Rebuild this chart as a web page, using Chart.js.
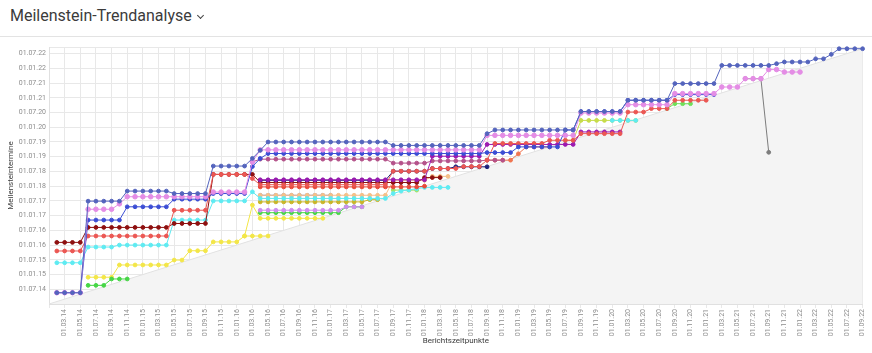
<!DOCTYPE html>
<html>
<head>
<meta charset="utf-8">
<script src="https://cdn.jsdelivr.net/npm/chart.js@4"></script>
<style>
  html, body { margin: 0; padding: 0; background: #fff; }
  body { width: 872px; height: 353px; overflow: hidden; position: relative; font-family: Roboto, sans-serif; }
  .header { position: absolute; left: 10px; top: 6px; font-size: 16px; line-height: 20px; color: #3b3b3b; white-space: nowrap; }
  .chev { display: inline-block; width: 4px; height: 4px; border-right: 1.3px solid #444; border-bottom: 1.3px solid #444; transform: rotate(45deg); margin-left: 6px; position: relative; top: -3px; }
  .rule { position: absolute; left: 0; top: 36px; width: 872px; height: 1px; background: #e3e3e3; }
  #wrap { position: absolute; left: 0; top: 38px; width: 872px; height: 315px; }
</style>
</head>
<body>
<div class="header">Meilenstein-Trendanalyse<span class="chev"></span></div>
<div class="rule"></div>
<div id="wrap"><canvas id="mta" width="872" height="315"></canvas></div>
<script>
// Berichtszeitpunkte (monthly report dates)
const xLabels = [
  '01.01.14','01.02.14','01.03.14','01.04.14','01.05.14','01.06.14','01.07.14','01.08.14','01.09.14','01.10.14','01.11.14','01.12.14',
  '01.01.15','01.02.15','01.03.15','01.04.15','01.05.15','01.06.15','01.07.15','01.08.15','01.09.15','01.10.15','01.11.15','01.12.15',
  '01.01.16','01.02.16','01.03.16','01.04.16','01.05.16','01.06.16','01.07.16','01.08.16','01.09.16','01.10.16','01.11.16','01.12.16',
  '01.01.17','01.02.17','01.03.17','01.04.17','01.05.17','01.06.17','01.07.17','01.08.17','01.09.17','01.10.17','01.11.17','01.12.17',
  '01.01.18','01.02.18','01.03.18','01.04.18','01.05.18','01.06.18','01.07.18','01.08.18','01.09.18','01.10.18','01.11.18','01.12.18',
  '01.01.19','01.02.19','01.03.19','01.04.19','01.05.19','01.06.19','01.07.19','01.08.19','01.09.19','01.10.19','01.11.19','01.12.19',
  '01.01.20','01.02.20','01.03.20','01.04.20','01.05.20','01.06.20','01.07.20','01.08.20','01.09.20','01.10.20','01.11.20','01.12.20',
  '01.01.21','01.02.21','01.03.21','01.04.21','01.05.21','01.06.21','01.07.21','01.08.21','01.09.21','01.10.21','01.11.21','01.12.21',
  '01.01.22','01.02.22','01.03.22','01.04.22','01.05.22','01.06.22','01.07.22','01.08.22','01.09.22'
];

// Meilensteintermine, in months after 01.01.14
const yTickValues = [6, 12, 18, 24, 30, 36, 42, 48, 54, 60, 66, 72, 78, 84, 90, 96, 102];
const yTickLabels = ['01.07.14','01.01.15','01.07.15','01.01.16','01.07.16','01.01.17','01.07.17','01.01.18','01.07.18',
  '01.01.19','01.07.19','01.01.20','01.07.20','01.01.21','01.07.21','01.01.22','01.07.22'];
const yTop = 104.7;

// each series: first report index + milestone values from there on
const slateStart = 1;
const slate = [4.6,4.6,4.6,4.6, 41.9,41.9,41.9,41.9,41.9, 46,46,46,46,46,46, 45,45,45,45,45,
  56.2,56.2,56.2,56.2,56.2, 59.3, 62.6,
  66,66,66,66,66,66,66,66,66,66,66,66,66,66,66,66,
  64.6,64.6,64.6,64.6,64.6,64.6,64.6,64.6,64.6,64.6,64.6,64.6, 69.4,
  70.9,70.9,70.9,70.9,70.9,70.9,70.9,70.9,70.9,70.9,70.9,
  78.4,78.4,78.4,78.4,78.4,78.4, 83,83,83,83,83,83, 89.8,89.8,89.8,89.8,89.8,89.8,
  97.2,97.2,97.2,97.2,97.2,97.2,97.2, 97.9, 98.6,98.6,98.6,98.6, 99.9,99.9, 101.7, 104,104,104,104];

const violetStart = 1;
const violet = [4.6,4.6,4.6,4.6, 38.6,38.6,38.6,38.6, 40.8, 43.7,43.7,43.7,43.7,43.7,43.7,43.7,43.7,43.7,43.7,43.7,
  45.6,45.6,45.6,45.6,45.6, 57.9,
  62.8,62.8,62.8,62.8,62.8,62.8,62.8,62.8,62.8,62.8,62.8,62.8,62.8,62.8,62.8,62.8,62.8,62.8,62.8,62.8,62.8,62.8,62.8,62.8,62.8,62.8,62.8,62.8,62.8,
  68.7,68.7,68.7,68.7,68.7,68.7,68.7,68.7,68.7,68.7,68.7,68.7,
  77.8,77.8,77.8,77.8,77.8,77.8, 81.2,81.2,81.2,81.2,81.2,81.2, 85.7,85.7,85.7,85.7,85.7,85.7,
  88.4,88.4,88.4, 91.8,91.8,91.8, 95.5,95.5, 94.5,94.5,94.5];

const blueStart = 1;
const blue = [4.6,4.6,4.6,4.6, 34.2,34.2,34.2,34.2,34.2, 39.6,39.6,39.6,39.6,39.6,39.6, 42.7,42.7,42.7,42.7,42.7,
  45,45,45,45,45, 56, 59.3,
  61.3,61.3,61.3,61.3,61.3,61.3,61.3,61.3,61.3,61.3,61.3,61.3,61.3,61.3,61.3,61.3,61.3,61.3,61.3,61.3,61.3,61.3,61.3,61.3,61.3,61.3,61.3,61.3,
  61.7,61.7,61.7,61.7, 64,64,64,64,64,64, 70.9,70.9,
  78.4,78.4,78.4,78.4,78.4,78.4, 83,83,83,83,83,83, 85.3,85.3,85.3,85.3,85.3,85.3];

const grayStart = 89;
const gray = [91.8,91.8,91.8, 61.8];

const redStart = 1;
const red = [21.6,21.6,21.6,21.6, 27.7,27.7,27.7,27.7,27.7,27.7,27.7,27.7,27.7,27.7,27.7, 38.2,38.2,38.2,38.2,38.2,
  52.8,52.8,52.8,52.8,52.8, 51.1,
  48.6,48.6,48.6,48.6,48.6,48.6,48.6,48.6,48.6,48.6,48.6,48.6,48.6,48.6,48.6,48.6,48.6,
  54.1,54.1,54.1,54.1,54.1, 55.2,55.2,55.2,55.2, 56,56,56, 58.6,
  65.4,65.4,65.4,65.4,65.4,65.4,65.4, 66.7,66.7,66.7,66.7, 69.4,69.4,69.4,69.4,69.4,69.4,
  78.2,78.2,78.2, 79.6,79.6,79.6, 83,83,83,83,83];

const purpleStart = 27;
const purple = [50.6,50.6,50.6,50.6,50.6,50.6,50.6,50.6,50.6,50.6,50.6,50.6,50.6,50.6,50.6,50.6,50.6,50.6,50.6,50.6,50.6,50.6,
  60.2,60.2,60.2,60.2,60.2,60.2,60.2, 65,65,65,65,65,65,65,65,65,65,65,65, 70.1,70.1,70.1,70.1,70.1,70.1];

const mauveStart = 26;
const mauve = [57.9, 59,59,59,59,59,59,59,59,59,59,59,59,59,59,59,59,59,
  57.4,57.4,57.4,57.4,57.4, 58.3,58.3,58.3,58.3,58.3,58.3,58.3, 58.6,58.6,58.6];

const navyStart = 27;
const navy = [50.4,50.4,50.4,50.4,50.4,50.4,50.4,50.4,50.4,50.4,50.4,50.4,50.4,50.4,50.4,50.4,50.4,
  54.1,54.1,54.1,54.1,54.1, 55.2,55.2,55.2, 55.9,55.9,55.9,55.9,55.9];

const darkRedStart = 1;
const darkRed = [25.1,25.1,25.1,25.1, 31.2,31.2,31.2,31.2,31.2,31.2,31.2,31.2,31.2,31.2,31.2, 32.8,32.8,32.8,32.8,32.8,
  52.8,52.8,52.8,52.8,52.8,52.8,
  49.5,49.5,49.5,49.5,49.5,49.5,49.5,49.5,49.5,49.5,49.5,49.5,49.5,49.5,49.5,49.5,49.5,49.5,49.5,49.5,49.5,
  51.5,51.5,51.5];

const tomatoStart = 56;
const tomato = [58.6,58.6,58.6,58.6, 61.2, 64,64,64,64];

const orangeRedStart = 27;
const orangeRed = [47.7,47.7,47.7,47.7,47.7,47.7,47.7,47.7,47.7,47.7,47.7,47.7,47.7,47.7,47.7,47.7,47.7,47.7,47.7,47.7,47.7, 48];

const cyanStart = 1;
const cyan = [16.8,16.8,16.8,16.8, 23.2,23.2,23.2,23.2, 24,24,24,24,24,24,24, 34.2,34.2,34.2,34.2,34.2,
  42,42,42,42,42, 45.7,
  43,43,43,43,43,43,43,43,43,43,43,43,43,43,43,43,43, 45,46,46.5,47, 47.5,47.5,47.5,47.5];
const cyanLateStart = 72;
const cyanLate = [74.8,74.8,74.8,74.8];

const peachStart = 27;
const peach = [44.3,44.3,44.3,44.3,44.3,44.3,44.3,44.3,44.3,44.3,44.3,44.3,44.3,44.3,44.3,44.3,44.3,
  50.4,50.4,50.4,50.4,50.4, 52,52,52];

const lightSlateStart = 27;
const lightSlate = [44.3,44.3,44.3,44.3,44.3,44.3,44.3,44.3,44.3,44.3];

const oliveStart = 27;
const olive = [41.6,41.6,41.6,41.6,41.6,41.6,41.6,41.6,41.6,41.6,41.6,41.6,41.6,41.6, 42.5,42.5];

const yellowGreenStart = 66;
const yellowGreen = [66.7,66.7, 74.8,74.8,74.8,74.8,74.8,74.8,74.8,74.8];

const lilacStart = 27;
const lilac = [38.2,38.2,38.2,38.2,38.2,38.2,38.2,38.2,38.2,38.2,38.2, 39.6,39.6,39.6];

const greenStart = 5;
const green = [7.6,7.6,7.6, 10.2,10.2,10.2];

const green2Start = 27;
const green2 = [37.2,37.2,37.2,37.2,37.2,37.2,37.2,37.2,37.2,37.2,37.2, 39.6,39.6,39.6];

const limeStart = 44;
const lime = [46.4,46.4,46.4,46.4];

const greenLateStart = 79;
const greenLate = [79.6, 81.6,81.6,81.6];

const yellowStart = 5;
const yellow = [10.9,10.9,10.9,10.9, 15.9,15.9,15.9,15.9,15.9,15.9,15.9, 17.9,17.9, 21.7,21.7,21.7,
  25.3,25.3,25.3,25.3, 27.7,27.7,27.7,27.7];

const yellow2Start = 25;
const yellow2 = [27.7, 40.3, 34.9,34.9,34.9,34.9,34.9,34.9,34.9,34.9,34.9];

// reference line: milestone date = report date
const diagonalEnds = [0, 104];

function place(start, values) {
  const out = new Array(xLabels.length).fill(null);
  values.forEach((v, k) => { out[start + k] = v; });
  return out;
}

function monthLabel(value) {
  const i = yTickValues.indexOf(value);
  return i >= 0 ? yTickLabels[i] : '';
}

// first entry is drawn on top
const rows = [
  ['slate', '#5464bd', slateStart, slate],
  ['violet', '#e48de5', violetStart, violet],
  ['blue', '#3b4dd4', blueStart, blue],
  ['gray', '#7d7d7d', grayStart, gray],
  ['red', '#eb5753', redStart, red],
  ['purple', '#9c1ab0', purpleStart, purple],
  ['mauve', '#b4528a', mauveStart, mauve],
  ['navy', '#1c1f7a', navyStart, navy],
  ['darkRed', '#8e1010', darkRedStart, darkRed],
  ['tomato', '#f0744f', tomatoStart, tomato],
  ['orangeRed', '#e94a3a', orangeRedStart, orangeRed],
  ['cyan', '#5eebf2', cyanStart, cyan],
  ['cyanLate', '#5eebf2', cyanLateStart, cyanLate],
  ['peach', '#f5c08a', peachStart, peach],
  ['lightSlate', '#7d93dc', lightSlateStart, lightSlate],
  ['olive', '#c9b52a', oliveStart, olive],
  ['yellowGreen', '#c7dc4a', yellowGreenStart, yellowGreen],
  ['lilac', '#cf8cf0', lilacStart, lilac],
  ['green', '#46d646', greenStart, green],
  ['green2', '#46d646', green2Start, green2],
  ['lime', '#9ee36a', limeStart, lime],
  ['greenLate', '#6fe05a', greenLateStart, greenLate],
  ['yellow', '#f3e648', yellowStart, yellow],
  ['yellow2', '#f3e648', yellow2Start, yellow2]
];

const datasets = rows.map(([label, color, start, values]) => ({
  label,
  data: place(start, values),
  borderColor: color,
  backgroundColor: color,
  borderWidth: 1,
  pointRadius: label === 'violet' ? 2.3 : 1.9,
  pointBorderWidth: 1,
  pointHoverRadius: 1.9,
  tension: 0,
  clip: false
}));

datasets.push({
  label: 'Ist',
  data: [
    { x: xLabels[0], y: diagonalEnds[0] },
    { x: xLabels[xLabels.length - 1], y: diagonalEnds[1] }
  ],
  borderColor: '#e2e2e2',
  backgroundColor: '#f4f4f4',
  borderWidth: 1,
  pointRadius: 0,
  fill: 'start'
});

new Chart(document.getElementById('mta'), {
  type: 'line',
  data: { labels: xLabels, datasets },
  options: {
    responsive: false,
    animation: false,
    devicePixelRatio: 1,
    layout: { padding: { top: 9, right: 7, bottom: 0, left: 0 } },
    plugins: {
      legend: { display: false },
      tooltip: { enabled: false }
    },
    scales: {
      x: {
        afterFit: (scale) => { scale.height = 49; },
        grid: {
          color: (ctx) => (ctx.index % 2 === 0 ? '#e8e8e8' : 'rgba(0,0,0,0)'),
          tickLength: 4
        },
        border: { color: '#e0e0e0' },
        ticks: {
          autoSkip: false,
          minRotation: 90,
          maxRotation: 90,
          padding: 1,
          color: '#8c8c8c',
          font: { family: 'Roboto', size: 7 },
          callback: (value, index) => (index > 0 && index % 2 === 0 ? xLabels[index] : '')
        },
        title: {
          display: true,
          text: 'Berichtszeitpunkte',
          color: '#3a3a3a',
          font: { family: 'Roboto', size: 8 },
          padding: { top: 2, bottom: 7 }
        }
      },
      y: {
        min: 0,
        max: yTop,
        afterFit: (scale) => { scale.width = 49; },
        afterBuildTicks: (scale) => { scale.ticks = yTickValues.concat([yTop]).map((v) => ({ value: v })); },
        grid: { color: '#e8e8e8', drawTicks: false },
        border: { color: '#e0e0e0' },
        ticks: {
          padding: 3,
          color: '#8c8c8c',
          font: { family: 'Roboto', size: 7 },
          callback: (value) => monthLabel(value)
        },
        title: {
          display: true,
          text: 'Meilensteintermine',
          color: '#3a3a3a',
          font: { family: 'Roboto', size: 8 },
          padding: { top: 6, bottom: 0 }
        }
      }
    }
  }
});
</script>
</body>
</html>
